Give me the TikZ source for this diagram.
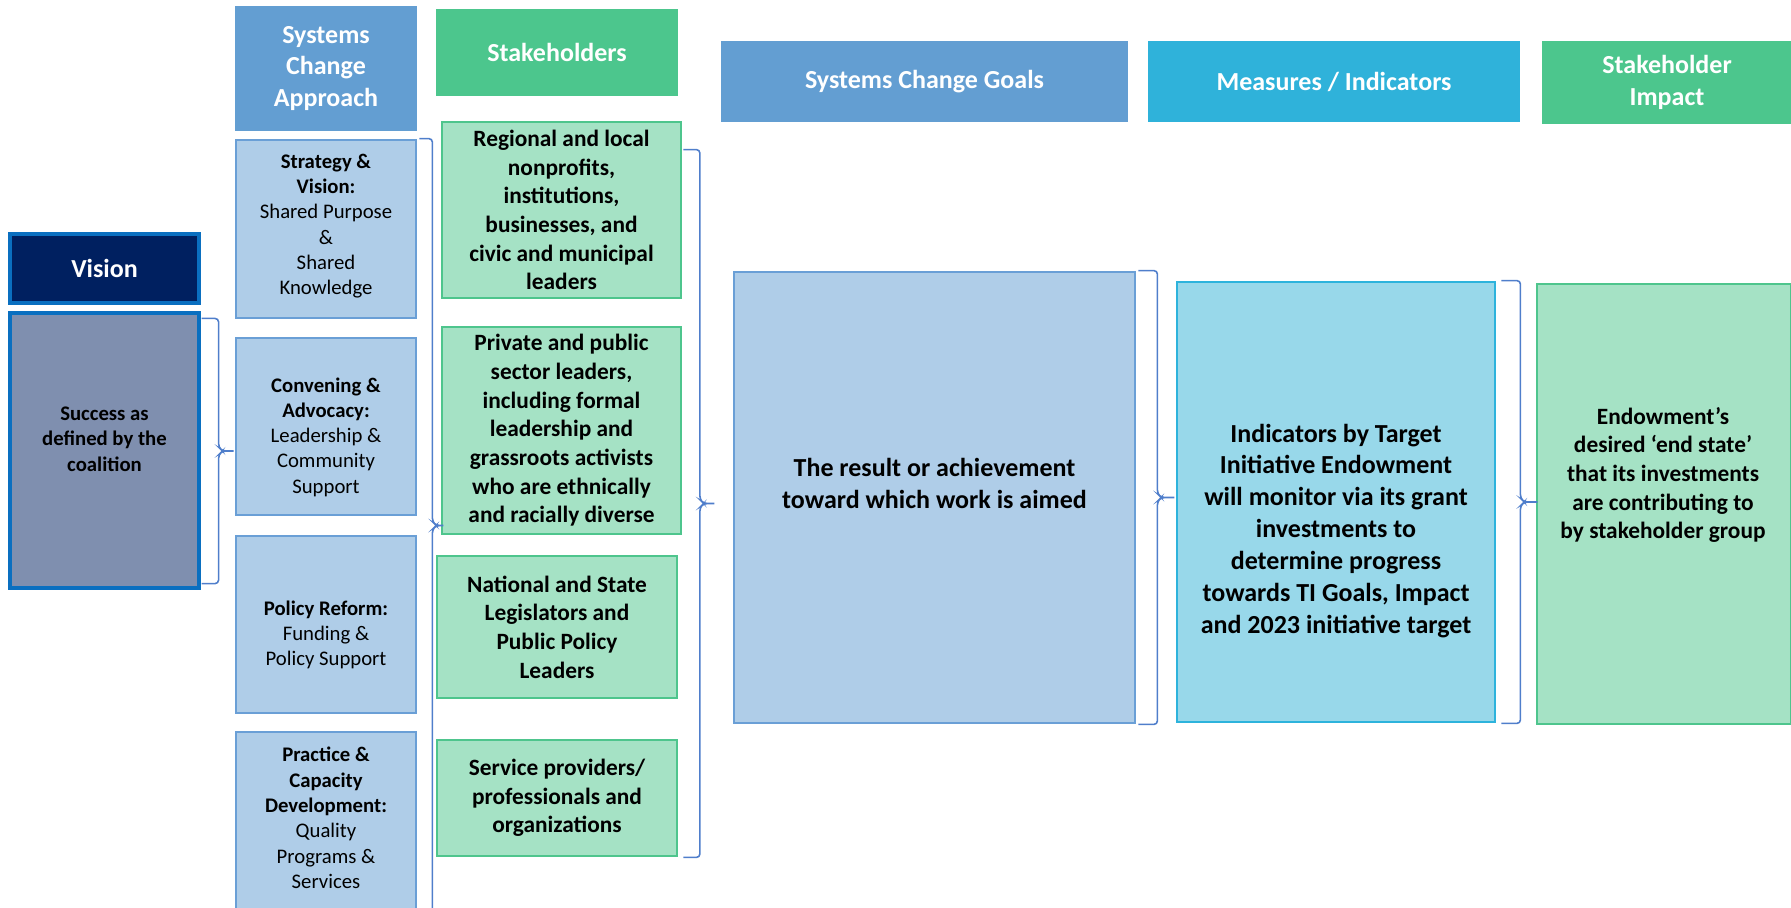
\documentclass[tikz,border=0pt]{standalone}
\usepackage{fontspec}
\setmainfont{Carlito}
\usetikzlibrary{calc}
\definecolor{hdblue}{HTML}{639ED2}
\definecolor{hdgreen}{HTML}{4CC68D}
\definecolor{hdcyan}{HTML}{2FB2DA}
\definecolor{ltblue}{HTML}{AFCDE8}
\definecolor{edblue}{HTML}{6A9FD6}
\definecolor{ltgreen}{HTML}{A5E2C5}
\definecolor{edgreen}{HTML}{4EC58D}
\definecolor{ltcyan}{HTML}{98D8EA}
\definecolor{edcyan}{HTML}{2DB3DC}
\definecolor{navy}{HTML}{002060}
\definecolor{slate}{HTML}{7F8FAF}
\definecolor{vborder}{HTML}{0A6FC0}
\definecolor{brcol}{HTML}{4F7ECB}
\newcommand*{\xMax}{1791}
\newcommand*{\yMax}{907}
\newcommand*{\px}{0.02cm}
\newcommand*{\fsHead}{\fontsize{14.8pt}{18.2pt}\selectfont}
\newcommand*{\fsMid}{\fontsize{13.3pt}{16.3pt}\selectfont}
\newcommand*{\fsSmall}{\fontsize{11.8pt}{14.4pt}\selectfont}
\tikzset{
  head/.style={draw=none,text=white,font=\bfseries\fsHead,align=center,inner sep=0pt},
  apbox/.style={fill=ltblue,draw=edblue,line width=1.6pt,inner sep=0pt},
  stbox/.style={fill=ltgreen,draw=edgreen,line width=1.6pt,inner sep=0pt,align=center,font=\bfseries\fsMid},
  aptext/.style={align=center,font=\fsSmall,inner sep=0pt},
  bigtext/.style={align=center,font=\bfseries\fsHead,inner sep=0pt},
  brc/.style={draw=brcol,line width=0.9pt,rounded corners=2pt},
  wbrace/.style={
    to path={let \p1=(\tikztostart), \p2=(\tikztotarget), \n1={0.5*(\y1+\y2)} in
      -- (\x1+0.5*#1,\y1) -- (\x1+0.5*#1,\n1+2.2pt) -- (\x1+0.5*#1+2.2pt,\n1) -- (\x1+#1,\n1)
      -- (\x1+0.5*#1+2.2pt,\n1) -- (\x1+0.5*#1,\n1-2.2pt) -- (\x1+0.5*#1,\y2) -- (\tikztotarget)}}
}

\begin{document}
\begin{tikzpicture}[x=\px,y=-\px]
\useasboundingbox (0,0) rectangle (\xMax,\yMax);
\clip (0,0) rectangle (\xMax,\yMax);

% headers
\node[head,fill=hdblue,minimum width=182*\px,minimum height=125*\px] (sca) at (326,68.5) {Systems\\Change\\Approach};
\node[head,fill=hdgreen,minimum width=242*\px,minimum height=87*\px] (stk) at (557,52.5) {Stakeholders};
\node[head,fill=hdblue,minimum width=407*\px,minimum height=81*\px] (scg) at (924.5,81.5) {Systems Change Goals};
\node[head,fill=hdcyan,minimum width=372*\px,minimum height=81*\px] (mi) at (1334,81.5) {Measures / Indicators};
\node[head,fill=hdgreen,minimum width=250*\px,minimum height=83*\px] (shi) at (1667,82.5) {Stakeholder\\Impact};

% vision
\node[head,fill=navy,draw=vborder,line width=1.8pt,minimum width=189*\px,minimum height=69*\px] (vis) at (104.5,268.5) {Vision};
\node[fill=slate,draw=vborder,line width=1.8pt,minimum width=189*\px,minimum height=275*\px] (succ) at (104.5,450.5) {};
\node[aptext,font=\bfseries\fsSmall] (succ-t) at (104.5,439) {Success as\\defined by the\\coalition};

% systems change approach
\node[apbox,minimum width=180*\px,minimum height=178*\px] (strat) at (326,229) {};
\node[aptext] (strat-t) at (326,226) {\textbf{Strategy \&}\\\textbf{Vision:}\\Shared Purpose\\\&\\Shared\\Knowledge};
\node[apbox,minimum width=180*\px,minimum height=177*\px] (conv) at (326,426.5) {};
\node[aptext] (conv-t) at (326,437) {\textbf{Convening \&}\\\textbf{Advocacy:}\\Leadership \&\\Community\\Support};
\node[apbox,minimum width=180*\px,minimum height=177*\px] (pol) at (326,624.5) {};
\node[aptext] (pol-t) at (326,635) {\textbf{Policy Reform:}\\Funding \&\\Policy Support};
\node[apbox,minimum width=180*\px,minimum height=179*\px] (prac) at (326,821.5) {};
\node[aptext] (prac-t) at (326,818) {\textbf{Practice \&}\\\textbf{Capacity}\\\textbf{Development:}\\Quality\\Programs \&\\Services};

% stakeholders
\node[stbox,minimum width=239*\px,minimum height=176*\px] (reg) at (561.5,210) {Regional and local\\nonprofits,\\institutions,\\businesses, and\\civic and municipal\\leaders};
\node[stbox,minimum width=239*\px,minimum height=207*\px] (priv) at (561.5,430.5) {Private and public\\sector leaders,\\including formal\\leadership and\\grassroots activists\\who are ethnically\\and racially diverse};
\node[stbox,minimum width=240*\px,minimum height=142*\px] (nat) at (557,627) {National and State\\Legislators and\\Public Policy\\Leaders};
\node[stbox,minimum width=240*\px,minimum height=116*\px] (serv) at (557,798) {Service providers/\\professionals and\\organizations};

% goals, indicators, impact
\node[apbox,minimum width=401*\px,minimum height=451*\px] (goal) at (934.5,497.5) {};
\node[bigtext] (goal-t) at (934.5,483) {The result or achievement\\toward which work is aimed};
\node[fill=ltcyan,draw=edcyan,line width=1.6pt,minimum width=318*\px,minimum height=440*\px] (ind) at (1336,502) {};
\node[bigtext] (ind-t) at (1336,531) {Indicators by Target\\Initiative Endowment\\will monitor via its grant\\investments to\\determine progress\\towards TI Goals, Impact\\and 2023 initiative target};
\node[stbox,minimum width=254*\px,minimum height=440*\px] (imp) at (1664,504) {};
\node[aptext,font=\bfseries\fsMid] (imp-t) at (1663,475) {Endowment’s\\desired ‘end state’\\that its investments\\are contributing to\\by stakeholder group};

% braces
\draw[brc] ([xshift=1*\px,yshift=-7*\px]succ.north east) to[wbrace=34*\px] ([xshift=1*\px,yshift=6*\px]succ.south east);
\draw[brc] ([xshift=2*\px]strat.north east) to[wbrace=26*\px] ([xshift=2*\px]prac.south east);
\draw[brc] ([xshift=1*\px,yshift=-29*\px]reg.north east) to[wbrace=33*\px] ([xshift=5*\px]serv.south east);
\draw[brc] ([xshift=2*\px]goal.north east) to[wbrace=38*\px] ([xshift=2*\px]goal.south east);
\draw[brc] ([xshift=5*\px]ind.north east) to[wbrace=38*\px] ([xshift=5*\px]ind.south east);

\end{tikzpicture}
\end{document}
